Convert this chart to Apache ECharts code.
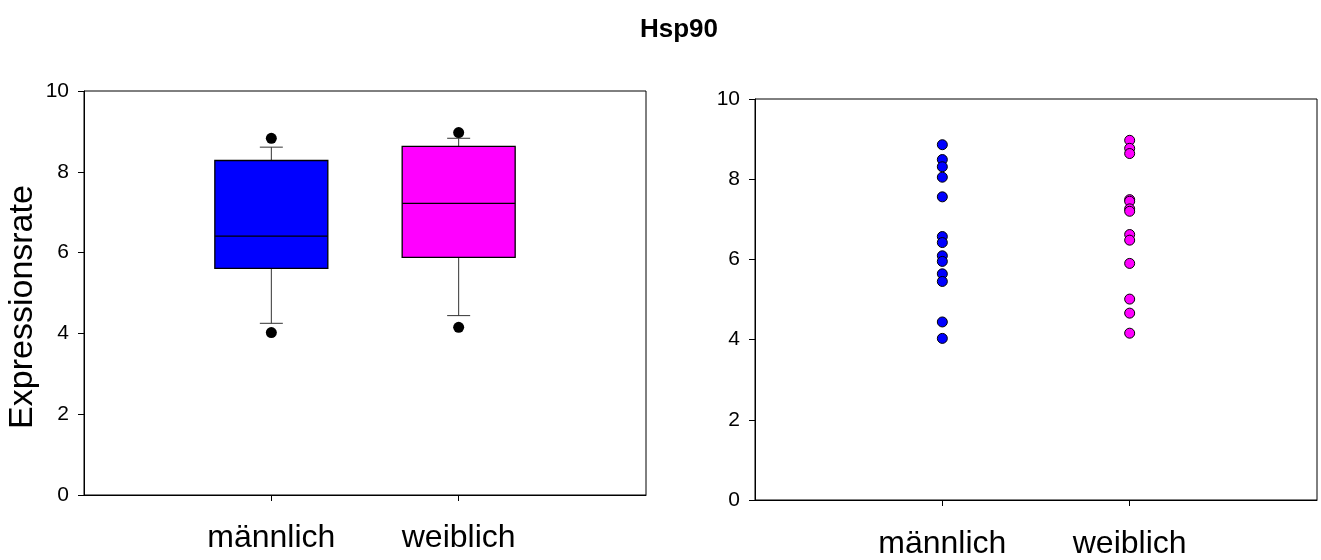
<!DOCTYPE html>
<html><head><meta charset="utf-8">
<script src="https://cdn.jsdelivr.net/npm/echarts@6/dist/echarts.min.js"></script>
<style>html,body{margin:0;padding:0;background:#fff}#c{width:1321px;height:560px}</style>
</head><body><div id="c"></div>
<script>
const chartTitle = 'Hsp90';
const yAxisName = 'Expressionsrate';
const categories = ['männlich', 'weiblich'];
// box plot stats: [lower whisker, Q1, median, Q3, upper whisker]
const boxMale = [4.25, 5.61, 6.41, 8.28, 8.61];
const boxFemale = [4.44, 5.88, 7.22, 8.63, 8.83];
const outliersMale = [8.83, 4.02];
const outliersFemale = [8.97, 4.15];
// individual values (right panel)
const pointsMale = [8.86, 8.49, 8.31, 8.05, 7.56, 6.57, 6.42, 6.09, 5.95, 5.64, 5.45, 4.44, 4.03];
const pointsFemale = [8.97, 8.77, 8.64, 7.49, 7.45, 7.26, 7.20, 6.62, 6.48, 5.90, 5.01, 4.66, 4.16];
const colors = ['#0000ff', '#ff00ff'];

const FONT = 'Liberation Sans, Arial, sans-serif';
const axisData = [''].concat(categories, ['']);
const showMid = (i) => i >= 1 && i <= categories.length;

function xAxisCfg(gridIndex, margin) {
  return {
    type: 'category', gridIndex, data: axisData, boundaryGap: false,
    axisLine: {lineStyle: {color: '#000', width: 1}},
    axisTick: {show: true, length: 6, interval: showMid, lineStyle: {color: '#000'}},
    axisLabel: {interval: showMid, fontSize: 32, color: '#000', fontFamily: FONT, margin},
    splitLine: {show: false}
  };
}
function yAxisCfg(gridIndex, extra) {
  return Object.assign({
    type: 'value', gridIndex, min: 0, max: 10, interval: 2,
    axisLine: {show: true, lineStyle: {color: '#000', width: 1}},
    axisTick: {show: true, length: 6, lineStyle: {color: '#000'}},
    axisLabel: {fontSize: 21, color: '#000', fontFamily: FONT, margin: 15},
    splitLine: {show: false}
  }, extra || {});
}

function renderBox(params, api) {
  const xi = api.value(0);
  const v = [1, 2, 3, 4, 5].map(i => api.value(i));
  const p = v.map(val => api.coord([xi, val]));
  const cx = p[0][0];
  const hw = 56.5, cw = 11.5;
  const wStyle = {stroke: '#333', lineWidth: 1};
  return {
    type: 'group',
    children: [
      {type: 'line', shape: {x1: cx, y1: p[0][1], x2: cx, y2: p[1][1]}, style: wStyle},
      {type: 'line', shape: {x1: cx, y1: p[3][1], x2: cx, y2: p[4][1]}, style: wStyle},
      {type: 'line', shape: {x1: cx - cw, y1: p[0][1], x2: cx + cw, y2: p[0][1]}, style: wStyle},
      {type: 'line', shape: {x1: cx - cw, y1: p[4][1], x2: cx + cw, y2: p[4][1]}, style: wStyle},
      {type: 'rect', shape: {x: cx - hw, y: p[3][1], width: 2 * hw, height: p[1][1] - p[3][1]},
        style: {fill: colors[params.dataIndex], stroke: '#000', lineWidth: 1.3}},
      {type: 'line', shape: {x1: cx - hw, y1: p[2][1], x2: cx + hw, y2: p[2][1]},
        style: {stroke: '#000', lineWidth: 1.2}}
    ]
  };
}

const boxData = [[categories[0]].concat(boxMale), [categories[1]].concat(boxFemale)];
const outlierData = outliersMale.map(v => [categories[0], v]).concat(outliersFemale.map(v => [categories[1], v]));

const option = {
  animation: false,
  backgroundColor: '#fff',
  title: {
    text: chartTitle, left: 635, top: 12,
    textStyle: {fontSize: 26, fontWeight: 'bold', color: '#000', fontFamily: FONT}
  },
  grid: [
    {left: 84, top: 91, width: 562, height: 404, show: true, borderColor: '#000', borderWidth: 1, backgroundColor: 'transparent'},
    {left: 755, top: 99, width: 562, height: 403.5, show: true, borderColor: '#000', borderWidth: 1, backgroundColor: 'transparent'}
  ],
  xAxis: [xAxisCfg(0, 27), xAxisCfg(1, 28)],
  yAxis: [
    yAxisCfg(0, {
      name: yAxisName, nameLocation: 'middle', nameGap: 44,
      nameTextStyle: {fontSize: 34, color: '#000', fontFamily: FONT, padding: [0, 28, 0, 0]}
    }),
    yAxisCfg(1)
  ],
  series: [
    {
      type: 'custom', xAxisIndex: 0, yAxisIndex: 0, renderItem: renderBox,
      encode: {x: 0, y: [1, 2, 3, 4, 5]}, data: boxData, z: 2
    },
    {
      type: 'scatter', xAxisIndex: 0, yAxisIndex: 0, symbolSize: 11,
      itemStyle: {color: '#000', opacity: 1}, data: outlierData, z: 3
    },
    {
      type: 'scatter', xAxisIndex: 1, yAxisIndex: 1, symbolSize: 10,
      itemStyle: {color: colors[0], borderColor: '#000', borderWidth: 1, opacity: 1},
      data: pointsMale.map(v => [categories[0], v])
    },
    {
      type: 'scatter', xAxisIndex: 1, yAxisIndex: 1, symbolSize: 10,
      itemStyle: {color: colors[1], borderColor: '#000', borderWidth: 1, opacity: 1},
      data: pointsFemale.map(v => [categories[1], v])
    }
  ]
};
const chart = echarts.init(document.getElementById('c'), null, {renderer: 'canvas'});
chart.setOption(option);
</script>
</body></html>
